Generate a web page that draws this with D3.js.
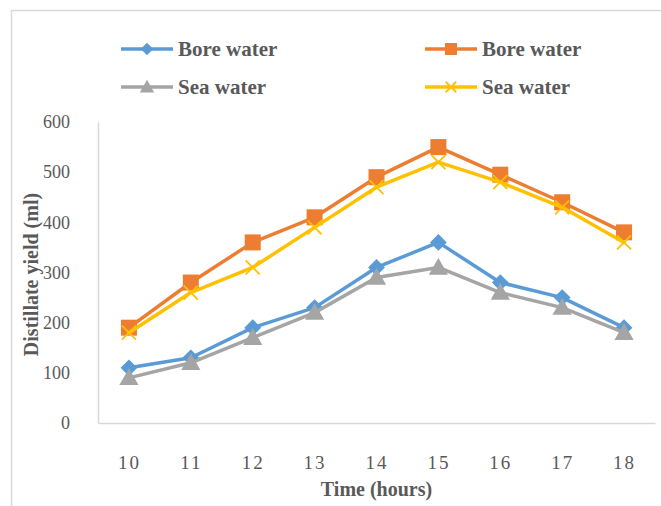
<!DOCTYPE html>
<html><head><meta charset="utf-8">
<script src="https://cdn.jsdelivr.net/npm/d3@7"></script>
<style>html,body{margin:0;padding:0;background:#fff;}svg{display:block;}</style>
</head><body>
<svg id="c" width="661" height="506"></svg>
<script>
const hours = [10, 11, 12, 13, 14, 15, 16, 17, 18];
const yTicks = [0, 100, 200, 300, 400, 500, 600];
const boreA = [110, 130, 190, 230, 310, 360, 280, 250, 190];
const boreB = [190, 280, 360, 410, 490, 550, 495, 440, 380];
const seaA  = [90, 120, 170, 220, 290, 310, 260, 230, 180];
const seaB  = [180, 260, 310, 390, 470, 520, 480, 430, 360];
const seriesNames = ["Bore water", "Bore water", "Sea water", "Sea water"];

const series = [
  {name: seriesNames[0], values: boreA, color: "#5b9bd5", marker: "diamond"},
  {name: seriesNames[1], values: boreB, color: "#ed7d31", marker: "square"},
  {name: seriesNames[2], values: seaA,  color: "#a5a5a5", marker: "triangle"},
  {name: seriesNames[3], values: seaB,  color: "#ffc000", marker: "x"}
];

const svg = d3.select("#c");
const font = "'Liberation Serif','Times New Roman',serif";
const txt = "#595959";

// outer chart border
svg.append("rect").attr("x", 11.5).attr("y", 10.5).attr("width", 700).attr("height", 520)
  .attr("fill", "#fff").attr("stroke", "#d9d9d9").attr("stroke-width", 1.5);

const L = 98, R = 655, T = 122, B = 423;
const x = d3.scalePoint().domain(hours).range([L, R]).padding(0.5);
const y = d3.scaleLinear().domain([0, 600]).range([B, T]);

// axes
const yAxis = d3.axisLeft(y).tickValues(yTicks).tickSize(0).tickPadding(28);
const gy = svg.append("g").attr("transform", `translate(${L},0)`).call(yAxis);
gy.select(".domain").attr("stroke", "#d9d9d9").attr("stroke-width", 1.5);
gy.selectAll("text").attr("font-family", font).attr("font-size", 18).attr("fill", txt);

const xAxis = d3.axisBottom(x).tickSize(0).tickPadding(36);
const gx = svg.append("g").attr("transform", `translate(0,${B})`).call(xAxis);
gx.select(".domain").attr("stroke", "#d9d9d9").attr("stroke-width", 1.5);
gx.selectAll("text").attr("font-family", font).attr("font-size", 19).attr("fill", txt)
  .attr("letter-spacing", "2px").attr("dy", "0.5em");

// axis titles
svg.append("text").attr("x", (L + R) / 2).attr("y", 496).attr("text-anchor", "middle")
  .attr("font-family", font).attr("font-weight", "bold").attr("font-size", 20).attr("fill", txt)
  .text("Time (hours)");
svg.append("text").attr("transform", `translate(38,${(T + B) / 2 + 2}) rotate(-90)`).attr("text-anchor", "middle")
  .attr("font-family", font).attr("font-weight", "bold").attr("font-size", 20).attr("fill", txt)
  .text("Distillate yield (ml)");

function drawMarker(g, type, color, cx, cy, s) {
  if (type === "diamond") {
    g.append("path").attr("d", `M${cx},${cy - s * 0.6}L${cx + s * 0.6},${cy}L${cx},${cy + s * 0.6}L${cx - s * 0.6},${cy}Z`).attr("fill", color);
  } else if (type === "square") {
    g.append("rect").attr("x", cx - s / 2).attr("y", cy - s / 2).attr("width", s).attr("height", s).attr("fill", color);
  } else if (type === "triangle") {
    g.append("path").attr("d", `M${cx},${cy - s * 0.6}L${cx + s * 0.6},${cy + s * 0.45}L${cx - s * 0.6},${cy + s * 0.45}Z`).attr("fill", color);
  } else {
    const h = s * 0.5;
    g.append("path").attr("d", `M${cx - h},${cy - h}L${cx + h},${cy + h}M${cx - h},${cy + h}L${cx + h},${cy - h}`)
      .attr("stroke", color).attr("stroke-width", 1.8).attr("fill", "none");
  }
}

const line = d3.line().x((d, i) => x(hours[i])).y(d => y(d));
const sizes = {diamond: 14, square: 16, triangle: 16, x: 14};
series.forEach(s => {
  const g = svg.append("g");
  g.append("path").attr("d", line(s.values)).attr("fill", "none").attr("stroke", s.color)
    .attr("stroke-width", 3.5).attr("stroke-linejoin", "round").attr("stroke-linecap", "round");
  s.values.forEach((v, i) => drawMarker(g, s.marker, s.color, x(hours[i]), y(v), sizes[s.marker]));
});

// legend
const legPos = [[121, 49], [425, 49], [121, 87], [425, 87]];
series.forEach((s, i) => {
  const [lx, ly] = legPos[i];
  const g = svg.append("g");
  g.append("line").attr("x1", lx).attr("x2", lx + 52).attr("y1", ly).attr("y2", ly)
    .attr("stroke", s.color).attr("stroke-width", 3.5);
  drawMarker(g, s.marker, s.color, lx + 26, ly, sizes[s.marker] * 0.75);
  g.append("text").attr("x", lx + 57).attr("y", ly).attr("dy", "0.35em")
    .attr("font-family", font).attr("font-weight", "bold").attr("font-size", 21).attr("fill", txt)
    .text(s.name);
});
</script>
</body></html>
